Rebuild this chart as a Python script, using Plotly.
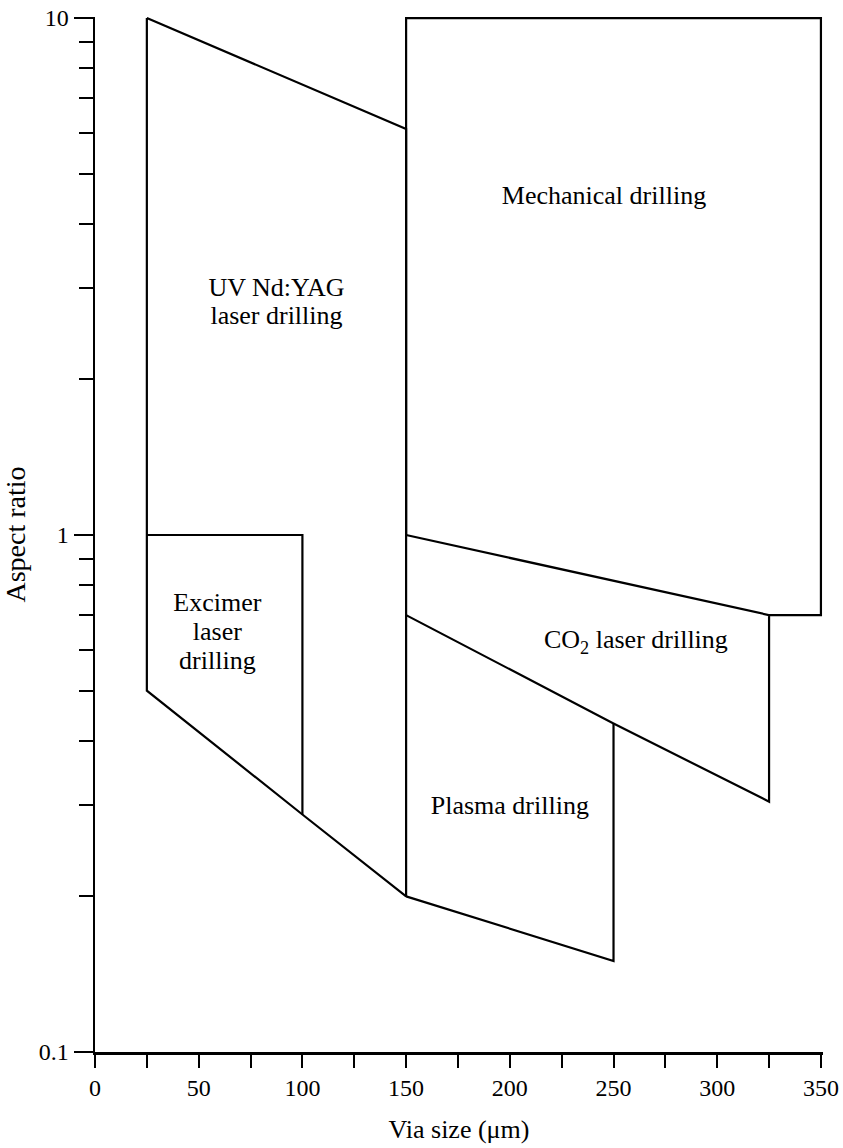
import plotly.graph_objects as go

# ---- data (via size in µm, aspect ratio) ----
uv_x = [25, 150, 150, 100, 25, 25]
uv_y = [10, 6.1, 0.2, 0.288, 0.5, 10]

excimer_x = [25, 100, 100]
excimer_y = [1, 1, 0.288]

mech_x = [150, 150, 350, 350, 325]
mech_y = [1, 10, 10, 0.7, 0.7]

co2_x = [150, 325, 325, 250, 150]
co2_y = [1, 0.7, 0.305, 0.432, 0.7]

plasma_x = [250, 250, 150]
plasma_y = [0.432, 0.15, 0.2]

# region labels, one entry per text line
label_text = ["Mechanical drilling", "UV Nd:YAG", "laser drilling",
              "Excimer", "laser", "drilling", "CO<sub>2</sub> laser drilling",
              "Plasma drilling"]
label_x = [245.4, 87.5, 87.5, 59, 59, 59, 260.8, 200]
label_y = [4.5, 2.98, 2.63, 0.735, 0.646, 0.568, 0.621, 0.297]

x_ticks = [0, 50, 100, 150, 200, 250, 300, 350]
x_minor = [25, 75, 125, 175, 225, 275, 325]
y_ticks = [0.1, 1, 10]
y_tick_text = ["0.1", "1", "10"]
y_minor = [0.2, 0.3, 0.4, 0.5, 0.6, 0.7, 0.8, 0.9, 2, 3, 4, 5, 6, 7, 8, 9]

FONT = "Liberation Serif"
line = dict(color="black", width=2.2)

fig = go.Figure()
for xs, ys in [(uv_x, uv_y), (excimer_x, excimer_y), (mech_x, mech_y),
               (co2_x, co2_y), (plasma_x, plasma_y)]:
    fig.add_trace(go.Scatter(x=xs, y=ys, mode="lines", line=line,
                             hoverinfo="skip", showlegend=False))

fig.add_trace(go.Scatter(x=label_x, y=label_y, mode="text", text=label_text,
                         textfont=dict(family=FONT, size=26, color="black"),
                         textposition="middle center", showlegend=False,
                         hoverinfo="skip"))

fig.update_layout(
    width=843, height=1148,
    margin=dict(l=95, r=20, t=17, b=96),
    paper_bgcolor="white", plot_bgcolor="white",
    font=dict(family=FONT, size=24, color="black"),
    xaxis=dict(range=[0, 351], tickvals=x_ticks, ticks="outside", ticklen=13,
               tickwidth=2, tickcolor="black", showline=True, linecolor="black",
               linewidth=2.5, showgrid=False, zeroline=False, automargin=False,
               tickfont=dict(family=FONT, size=24, color="black"),
               minor=dict(tickvals=x_minor, ticks="outside", ticklen=13,
                          tickwidth=2, tickcolor="black", showgrid=False),
               title=dict(text="Via size (μm)", standoff=20,
                          font=dict(family=FONT, size=26, color="black"))),
    yaxis=dict(type="log", range=[-1, 1.002], tickvals=y_ticks,
               ticktext=y_tick_text, ticks="outside", ticklen=19, tickwidth=2,
               tickcolor="black", showline=True, linecolor="black",
               linewidth=2.5, showgrid=False, zeroline=False, automargin=False,
               tickfont=dict(family=FONT, size=24, color="black"),
               minor=dict(tickvals=y_minor, ticks="outside", ticklen=14,
                          tickwidth=2, tickcolor="black", showgrid=False),
               title=dict(text="Aspect ratio", standoff=10,
                          font=dict(family=FONT, size=28, color="black"))),
)

fig.write_html("out.html",
               config={"displayModeBar": False, "staticPlot": True},
               post_script="document.body.style.margin='0';"
                           "document.body.style.overflow='hidden';")
